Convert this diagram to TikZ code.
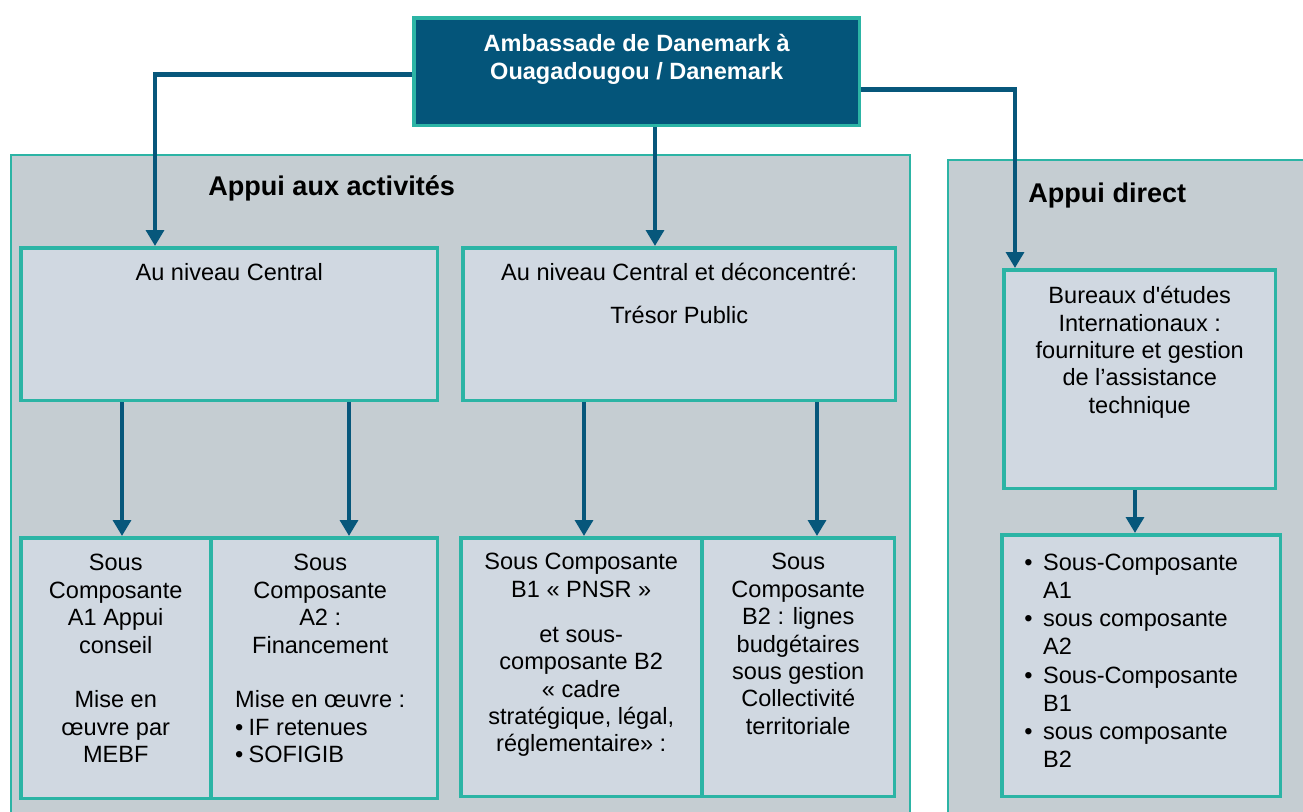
\documentclass[tikz,border=0pt]{standalone}
\usepackage{fontspec}
\newfontfamily\arial{Liberation Sans}
\newcommand\bodyfont{\arial\fontsize{13.4}{15.6}\selectfont}
\definecolor{Topcol}{HTML}{04557A}
\definecolor{Arrowcol}{HTML}{07577B}
\definecolor{Edgecol}{HTML}{2CB4A5}
\definecolor{Groupcol}{HTML}{C5CDD2}
\definecolor{Boxcol}{HTML}{D0D8E1}
\usetikzlibrary{calc, arrows.meta, positioning}
\tikzset{
    >={Triangle[width=10pt,length=9pt]},
    font=\bodyfont,
    box/.style={draw=Edgecol, line width=2pt, fill=Boxcol, inner sep=0pt, anchor=north west},
    group/.style={draw=Edgecol, line width=0.9pt, fill=Groupcol},
    txt/.style={inner sep=0pt, align=center, anchor=north, font=\bodyfont},
    head/.style={inner sep=0pt, anchor=west, font=\arial\fontsize{15.4}{18}\selectfont\bfseries},
    link/.style={->, draw=Arrowcol, line width=2.7pt}
}

\begin{document}
\begin{tikzpicture}[x=0.02cm, y=-0.02cm]
    \useasboundingbox (0,0) rectangle (1303,812);

    % Groups
    \draw[group] (11,155) rectangle (910,830);
    \draw[group] (948,160) rectangle (1320,830);
    \node[head] (actT) at (208,188) {Appui aux activités};
    \node[head] (dirT) at (1028,196) {Appui direct};

    % Embassy
    \node[box, fill=Topcol, minimum width=8.92cm, minimum height=2.16cm] (amb) at (412,16) {};
    \node[txt, text=white, font=\bodyfont\bfseries] (ambT) at ($(amb.north)+(0,18)$)
        {Ambassade de Danemark à\\Ouagadougou / Danemark};

    % Central level
    \node[box, minimum width=8.34cm, minimum height=3.06cm] (cen) at (19,246) {};
    \node[txt] (cenT) at ($(cen.north)+(0,17)$) {Au niveau Central};
    \node[box, minimum width=8.66cm, minimum height=3.06cm] (dec) at (461,246) {};
    \node[txt] (decT) at ($(dec.north)+(0,17)$)
        {Au niveau Central et déconcentré:\\[8.8pt]Trésor Public};

    % Consultants
    \node[box, minimum width=5.44cm, minimum height=4.38cm] (bur) at (1002,268) {};
    \node[txt] (burT) at ($(bur.north)+(0,18)$)
        {Bureaux d'études\\Internationaux :\\fourniture et gestion\\de l’assistance\\technique};

    % Sub-components
    \node[box, minimum width=3.8cm, minimum height=5.22cm] (a1) at (19,536) {};
    \node[txt] (a1T) at ($(a1.north)+(0,18)$)
        {Sous\\Composante\\A1 Appui\\conseil\\[15.6pt]Mise en\\œuvre par\\MEBF};
    \node[box, minimum width=4.54cm, minimum height=5.22cm] (a2) at (209,536) {};
    \node[txt] (a2T) at ($(a2.north)+(-4,18)$)
        {Sous\\Composante\\A2 :\\Financement\\[15.6pt]%
        \begin{tabular}[t]{@{}l@{}}Mise en œuvre :\\•\hspace{3pt}IF retenues\\•\hspace{3pt}SOFIGIB\end{tabular}};
    \node[box, minimum width=4.82cm, minimum height=5.18cm] (b1) at (459,536) {};
    \node[txt] (b1T) at ($(b1.north)+(0,17)$)
        {Sous Composante\\B1 « PNSR »\\[10pt]et sous-\\composante B2\\« cadre\\stratégique, légal,\\réglementaire» :};
    \node[box, minimum width=3.86cm, minimum height=5.18cm] (b2) at (700,536) {};
    \node[txt] (b2T) at ($(b2.north)+(0,17)$)
        {Sous\\Composante\\B2 : lignes\\budgétaires\\sous gestion\\Collectivité\\territoriale};
    \node[box, minimum width=5.58cm, minimum height=5.24cm] (lst) at (1000,533) {};
    \node[inner sep=0pt, anchor=north west] (lstT) at ($(lst.north west)+(24,17)$)
        {\renewcommand\arraystretch{1.03}%
        \begin{tabular}{@{}l@{\hspace{6pt}}l@{}}
        • & Sous-Composante\\ & A1\\
        • & sous composante\\ & A2\\
        • & Sous-Composante\\ & B1\\
        • & sous composante\\ & B2
        \end{tabular}};

    % Links
    \draw[link] ($(amb.west)+(0,3)$) -| (cen.north -| 155,0);
    \draw[link] ($(amb.east)+(0,18)$) -| (bur.north -| 1015,0);
    \draw[link] (amb.south -| 655,0) -- (dec.north -| 655,0);
    \foreach \up/\dn/\xx in {cen/a1/122, cen/a2/349, dec/b1/584, dec/b2/817, bur/lst/1135}
        \draw[link] (\up.south -| \xx,0) -- (\dn.north -| \xx,0);
\end{tikzpicture}
\end{document}
